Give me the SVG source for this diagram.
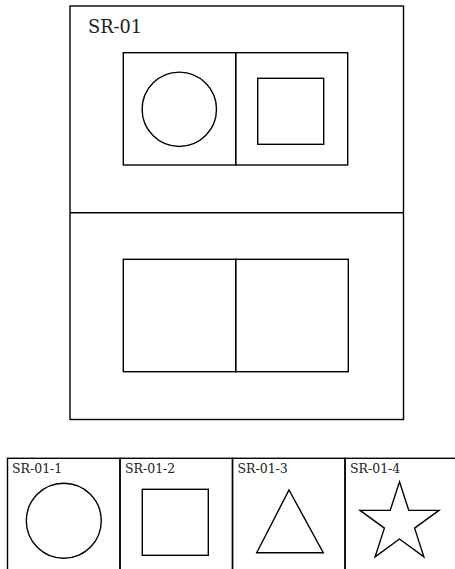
<svg xmlns="http://www.w3.org/2000/svg" width="455" height="569" viewBox="0 0 455 569">
<style>
.b{fill:none;stroke:#000;stroke-width:1.4}
.t{font-family:"DejaVu Serif","Liberation Serif",serif;fill:#222}
</style>
<rect width="455" height="569" fill="#fff"/>
<g id="SR-01">
<rect class="b" x="70" y="6" width="333.5" height="413.5"/>
<line class="b" x1="70" y1="212.7" x2="403.5" y2="212.7" stroke-width="2"/>
<text class="t" x="88" y="33" font-size="19" textLength="54" lengthAdjust="spacingAndGlyphs">SR-01</text>
<g id="top-panes">
<rect class="b" x="123.3" y="52.7" width="112.4" height="112.3"/>
<rect class="b" x="235.7" y="52.7" width="112" height="112.3"/>
<circle class="b" cx="179.3" cy="109.3" r="37.2"/>
<rect class="b" x="257.7" y="78.3" width="66" height="66"/>
</g>
<g id="bottom-panes">
<rect class="b" x="123.3" y="259.3" width="112.4" height="112.4"/>
<rect class="b" x="235.7" y="259.3" width="112.6" height="112.4"/>
</g>
</g>
<g id="SR-01-1">
<rect class="b" x="7.5" y="458.3" width="112.5" height="120"/>
<text class="t" x="12" y="473" font-size="12.5">SR-01-1</text>
<circle class="b" cx="63.8" cy="520.8" r="37.5"/>
</g>
<g id="SR-01-2">
<rect class="b" x="120" y="458.3" width="112.5" height="120"/>
<text class="t" x="125" y="473" font-size="12.5">SR-01-2</text>
<rect class="b" x="142.3" y="489.3" width="66" height="66"/>
</g>
<g id="SR-01-3">
<rect class="b" x="232.5" y="458.3" width="112.5" height="120"/>
<text class="t" x="237.5" y="473" font-size="12.5">SR-01-3</text>
<polygon class="b" points="289,490 323.3,552.7 256.7,552.7"/>
</g>
<g id="SR-01-4">
<rect class="b" x="345" y="458.3" width="112.5" height="120"/>
<text class="t" x="350" y="473" font-size="12.5">SR-01-4</text>
<polygon class="b" points="399.5,481.7 408.8,510.4 439,510.4 414.6,528.1 423.9,556.8 399.5,539 375.1,556.8 384.4,528.1 360,510.4 390.2,510.4"/>
</g>
<g id="connectors"></g>
</svg>
